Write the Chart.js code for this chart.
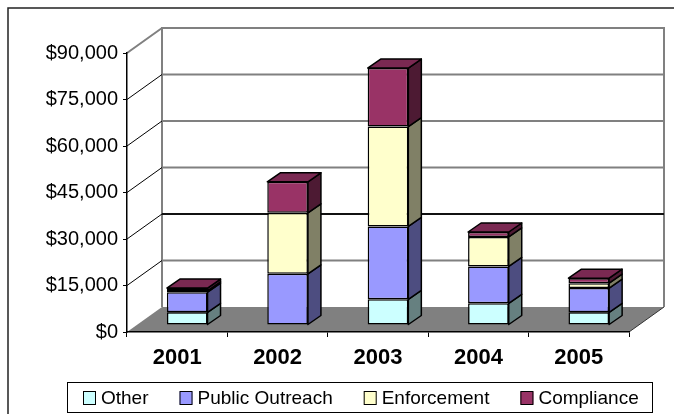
<!DOCTYPE html>
<html>
<head>
<meta charset="utf-8">
<script src="https://cdn.jsdelivr.net/npm/chart.js@4/dist/chart.umd.min.js"></script>
<style>
  html, body { margin: 0; padding: 0; background: #fff; }
  canvas { display: block; }
</style>
</head>
<body>
<canvas id="fundingChart" width="674" height="414"></canvas>
<script>
const years = ['2001', '2002', '2003', '2004', '2005'];
const other = [4100, 0, 8300, 7000, 4100];
const publicOutreach = [6500, 16500, 23500, 11900, 7800];
const enforcement = [400, 19700, 32200, 9500, 1600];
const compliance = [900, 10000, 18900, 1600, 1600];
const yMax = 90000;
const yStep = 15000;

const FONT = "'Liberation Sans', Arial, sans-serif";

// depth of the floor / walls, and where the bars sit inside that depth
const WALL_DX = 35, WALL_DY = -25;
const BAR_SHIFT_X = 10, BAR_SHIFT_Y = -7;
const BAR_DX = 13, BAR_DY = -9;

function shade(hex, f) {
    const n = parseInt(hex.slice(1), 16);
    const r = Math.round(((n >> 16) & 255) * f);
    const g = Math.round(((n >> 8) & 255) * f);
    const b = Math.round((n & 255) * f);
    return `rgb(${r}, ${g}, ${b})`;
}

const threeD = {
    id: 'threeD',
    beforeDraw(chart) {
        const { ctx, chartArea: a, scales: { y } } = chart;
        ctx.save();
        ctx.fillStyle = '#fff';
        ctx.fillRect(0, 0, chart.width, chart.height);

        // outer frame (runs past the right and bottom edge)
        ctx.strokeStyle = '#222';
        ctx.lineWidth = 1.5;
        ctx.strokeRect(8, 8, 800, 600);

        // floor
        ctx.fillStyle = '#808080';
        ctx.beginPath();
        ctx.moveTo(a.left, a.bottom);
        ctx.lineTo(a.right, a.bottom);
        ctx.lineTo(a.right + WALL_DX, a.bottom + WALL_DY);
        ctx.lineTo(a.left + WALL_DX, a.bottom + WALL_DY);
        ctx.closePath();
        ctx.fill();
        ctx.strokeStyle = '#333';
        ctx.lineWidth = 1;
        ctx.beginPath();
        ctx.moveTo(a.right, a.bottom);
        ctx.lineTo(a.right + WALL_DX, a.bottom + WALL_DY);
        ctx.stroke();

        // back wall edges
        const backTop = y.getPixelForValue(yMax) + WALL_DY;
        const backBottom = a.bottom + WALL_DY;
        ctx.strokeStyle = '#808080';
        ctx.lineWidth = 2;
        ctx.beginPath();
        ctx.moveTo(a.left + WALL_DX, backBottom);
        ctx.lineTo(a.left + WALL_DX, backTop);
        ctx.lineTo(a.right + WALL_DX, backTop);
        ctx.lineTo(a.right + WALL_DX, backBottom);
        ctx.moveTo(a.left, y.getPixelForValue(yMax));
        ctx.lineTo(a.left + WALL_DX, backTop);
        ctx.stroke();

        // gridlines: diagonal on the side wall, horizontal on the back wall
        y.ticks.forEach(t => {
            if (t.value <= 0 || t.value >= yMax) return;
            const py = y.getPixelForValue(t.value);
            ctx.strokeStyle = '#000';
            ctx.lineWidth = 1;
            ctx.beginPath();
            ctx.moveTo(a.left, py);
            ctx.lineTo(a.left + WALL_DX, py + WALL_DY);
            ctx.stroke();
            ctx.strokeStyle = t.value === 30000 ? '#111' : '#808080';
            ctx.lineWidth = 2;
            ctx.beginPath();
            ctx.moveTo(a.left + WALL_DX, py + WALL_DY);
            ctx.lineTo(a.right + WALL_DX, py + WALL_DY);
            ctx.stroke();
        });
        ctx.restore();
    },
    beforeDatasetsDraw(chart) {
        chart.ctx.save();
        chart.ctx.translate(BAR_SHIFT_X, BAR_SHIFT_Y);
    },
    afterDatasetsDraw(chart) {
        const ctx = chart.ctx;
        const datasets = chart.data.datasets;
        ctx.lineWidth = 1.5;
        ctx.strokeStyle = '#000';
        ctx.lineJoin = 'round';

        years.forEach((_, i) => {
            let topDs = -1;
            datasets.forEach((ds, d) => {
                if (ds.data[i] > 0) topDs = d;
            });
            datasets.forEach((ds, d) => {
                if (!(ds.data[i] > 0)) return;
                const bar = chart.getDatasetMeta(d).data[i];
                const { x, y, base, width } = bar.getProps(['x', 'y', 'base', 'width'], true);
                const left = x - width / 2, right = x + width / 2;

                // right side
                ctx.fillStyle = shade(ds.backgroundColor, 0.5);
                ctx.beginPath();
                ctx.moveTo(right, y);
                ctx.lineTo(right + BAR_DX, y + BAR_DY);
                ctx.lineTo(right + BAR_DX, base + BAR_DY);
                ctx.lineTo(right, base);
                ctx.closePath();
                ctx.fill();
                ctx.stroke();

                // top face
                if (d === topDs) {
                    ctx.fillStyle = shade(ds.backgroundColor, 0.8);
                    ctx.beginPath();
                    ctx.moveTo(left, y);
                    ctx.lineTo(left + BAR_DX, y + BAR_DY);
                    ctx.lineTo(right + BAR_DX, y + BAR_DY);
                    ctx.lineTo(right, y);
                    ctx.closePath();
                    ctx.fill();
                    ctx.stroke();
                }
            });
        });
        ctx.restore();
    },
    afterDraw(chart) {
        const ctx = chart.ctx;
        ctx.save();
        // legend box
        ctx.strokeStyle = '#000';
        ctx.lineWidth = 1;
        ctx.strokeRect(67.5, 382.5, 585, 30);

        ctx.font = `19px ${FONT}`;
        ctx.textBaseline = 'middle';
        ctx.textAlign = 'left';
        let lx = 83;
        chart.data.datasets.forEach(ds => {
            ctx.fillStyle = ds.backgroundColor;
            ctx.fillRect(lx, 391.5, 13, 13);
            ctx.strokeRect(lx + 0.5, 391.5, 12, 13);
            ctx.fillStyle = '#000';
            ctx.fillText(ds.label, lx + 18, 398.5);
            lx += 18 + ctx.measureText(ds.label).width + 31;
        });
        ctx.restore();
    }
};

const barStyle = {
    borderColor: '#000',
    borderWidth: 1.5,
    borderSkipped: false,
    barPercentage: 0.405,
    categoryPercentage: 1,
    clip: false,
};

new Chart(document.getElementById('fundingChart'), {
    type: 'bar',
    data: {
        labels: years,
        datasets: [
            { label: 'Other', data: other, backgroundColor: '#CCFFFF', ...barStyle },
            { label: 'Public Outreach', data: publicOutreach, backgroundColor: '#9999FF', ...barStyle },
            { label: 'Enforcement', data: enforcement, backgroundColor: '#FFFFCC', ...barStyle },
            { label: 'Compliance', data: compliance, backgroundColor: '#993366', ...barStyle },
        ],
    },
    options: {
        responsive: false,
        animation: false,
        events: [],
        layout: {
            padding: { left: 0, top: 53, right: 45, bottom: 0 },
        },
        plugins: {
            legend: { display: false },
            tooltip: { enabled: false },
        },
        scales: {
            x: {
                stacked: true,
                offset: true,
                afterFit(scale) { scale.height = 82; },
                grid: {
                    offset: true,
                    drawOnChartArea: false,
                    tickLength: 5,
                    color: '#000',
                    lineWidth: 1,
                },
                border: { color: '#000', width: 1.5 },
                ticks: {
                    color: '#000',
                    padding: 8,
                    font: { family: FONT, size: 22, weight: 'bold' },
                },
            },
            y: {
                stacked: true,
                min: 0,
                max: yMax,
                afterFit(scale) { scale.width = 127; },
                grid: {
                    drawOnChartArea: false,
                    tickLength: 4,
                    color: '#000',
                    lineWidth: 1,
                },
                border: { color: '#000', width: 1.5 },
                ticks: {
                    stepSize: yStep,
                    color: '#000',
                    padding: 5,
                    font: { family: FONT, size: 20 },
                    callback: v => '$' + v.toLocaleString('en-US'),
                },
            },
        },
    },
    plugins: [threeD],
});
</script>
</body>
</html>
